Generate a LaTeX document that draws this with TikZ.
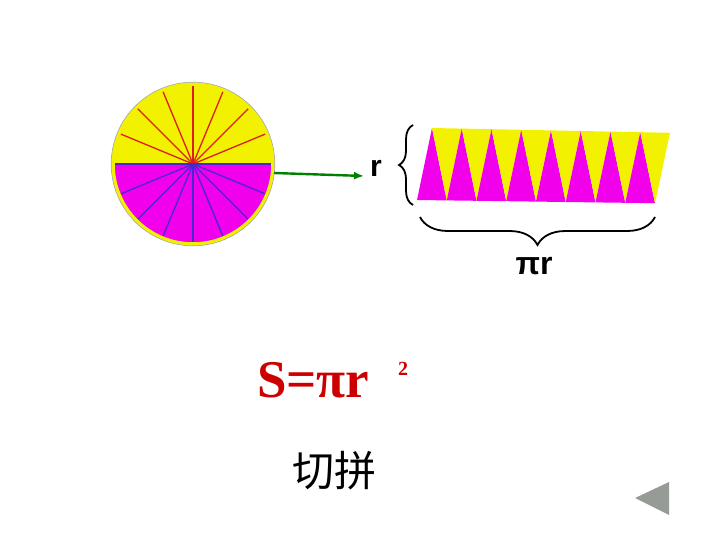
\documentclass[tikz,border=0pt]{standalone}
\usepackage{fontspec}
\setmainfont{Liberation Sans}[BoldFont={Liberation Sans Bold}]
\newfontfamily\timesbf{Liberation Serif}[BoldFont={Liberation Serif Bold}]
\newfontfamily\cjk{Noto Sans CJK SC}
\usetikzlibrary{arrows.meta,decorations.pathreplacing}
\definecolor{pieyellow}{RGB}{242,242,0}
\definecolor{piemagenta}{RGB}{240,0,235}
\definecolor{piered}{RGB}{220,30,30}
\definecolor{pieblue}{RGB}{70,40,210}
\definecolor{arrgreen}{RGB}{0,128,0}
\definecolor{formred}{RGB}{204,0,0}
\definecolor{navgray}{RGB}{150,155,150}
\tikzstyle{arrow} = [line width=2.4pt,-{Latex[length=10pt,width=8pt]},color=arrgreen]
\tikzset{curly/.style={decorate, decoration={brace, amplitude=#1}, line width=1.8pt}}

\begin{document}
\begin{tikzpicture}[x=1pt, y=-1pt]
\useasboundingbox (0,0) rectangle (720,540);
% Cut circle
\coordinate (ctr) at (193,164);
\fill[pieyellow] (ctr) ++(-80,0) arc[start angle=180, end angle=360, radius=80] -- cycle;
\fill[piemagenta] (ctr) ++(80,0) arc[start angle=0, end angle=180, radius=80] -- cycle;
\foreach \k in {1,...,7} {
  \draw[piered, line width=1.3pt] (ctr) -- ++(180+22.5*\k:80);
  \draw[pieblue, line width=1.3pt] (ctr) -- ++(22.5*\k:80);
}
\draw[pieblue, line width=1.8pt] (ctr) ++(-80,0) -- ++(160,0);
\draw[pieyellow, line width=3.5pt] (ctr) circle[radius=80];
\draw[black!35, line width=0.6pt] (ctr) circle[radius=81.8];
% Rearranged strips
\foreach \i [evaluate=\i as \ta using 432+29.75*\i, evaluate=\i as \tb using 461.75+29.75*\i,
             evaluate=\i as \ba using 417+29.75*\i, evaluate=\i as \bb using 446.75+29.75*\i] in {0,...,7} {
  \fill[piemagenta] (\ba,{200+0.4*\i}) -- (\bb,{200.4+0.4*\i}) -- (\ta,{128+0.6*\i}) -- cycle;
  \fill[pieyellow] (\ta,{128+0.6*\i}) -- (\tb,{128.6+0.6*\i}) -- (\bb,{200.4+0.4*\i}) -- cycle;
}
% Braces and labels
\coordinate (rbot) at (413,205);
\coordinate (rtop) at (413,125);
\draw[curly=14] (rbot) -- (rtop);
\node[font=\bfseries\fontsize{30}{30}\selectfont, inner sep=0] (rlab) at (376,168) {r};
\coordinate (wl) at (420,217);
\coordinate (wr) at (655,217);
\draw[curly=28] (wr) -- (wl);
\node[font=\bfseries\fontsize{32}{32}\selectfont, inner sep=0] (wlab) at (534,266) {πr};
\coordinate (arrstart) at (274,173);
\coordinate (arrend) at (364,176);
\draw[arrow] (arrstart) -- (arrend);
% Area formula
\node[anchor=base west, text=formred, font=\timesbf\bfseries\fontsize{53}{53}\selectfont, inner sep=0] (area) at (257,397) {S=πr};
\node[anchor=base west, text=formred, font=\timesbf\bfseries\fontsize{20}{20}\selectfont, inner sep=0] (sq) at (398,375) {2};
\node[font=\cjk\fontsize{42}{42}\selectfont, inner sep=0] (cut) at (334,471) {切拼};
% Back button
\fill[navgray] (635,498) -- (669,482) -- (669,515) -- cycle;
\end{tikzpicture}
\end{document}
